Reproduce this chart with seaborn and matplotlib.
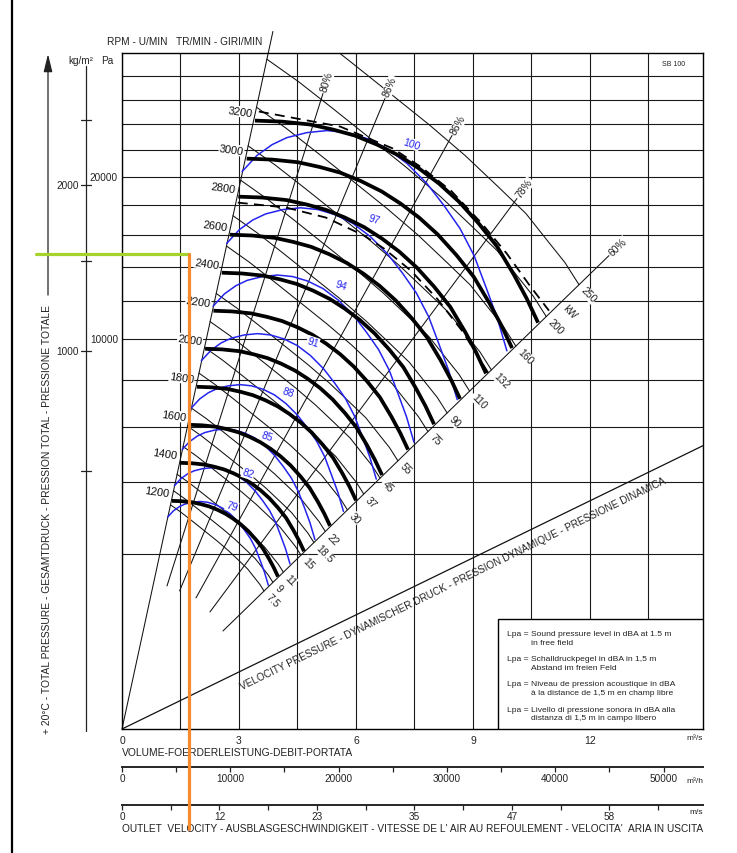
import numpy as np
import pandas as pd
import matplotlib
matplotlib.use("Agg")
import matplotlib.pyplot as plt
import seaborn as sns
from matplotlib.lines import Line2D
from matplotlib.patches import Rectangle
from matplotlib import transforms

# ------------------------------------------------------------------ data
flow_tick_values = [0, 3, 6, 9, 12]                 # m3/s
flow_grid_minor = [1.5, 4.5, 7.5, 10.5, 13.5]
pressure_grid = [2000, 4000, 6000, 8000, 10000, 12000, 14000, 16000,
                 18000, 20000, 22000, 24000, 26000, 28000]
pa_label_values = [10000, 20000]
kg_tick_values = [500, 1000, 1500, 2000, 2500]
kg_tick_pressure_pa = [4380, 9390, 14400, 19460, 24380]
kg_label_values = [1000, 2000]
hourly_major = [0, 10000, 20000, 30000, 40000, 50000]
hourly_minor = [5000, 15000, 25000, 35000, 45000]
outlet_velocity_labels = ["0", "12", "23", "35", "47", "58"]
outlet_velocity_flow = [0, 2.5, 5.0, 7.5, 10.0, 12.5]
outlet_minor_flow = [1.25, 3.75, 6.25, 8.75, 11.25, 13.75]

# fan curves (thick): characteristic read at 3200 rpm, other speeds by the fan laws
rpm_values = [1200, 1400, 1600, 1800, 2000, 2200, 2400, 2600, 2800, 3000, 3200]
curve_flow_3200 = [3.41, 4.10, 4.82, 5.41, 5.97, 6.54, 7.10, 7.62, 8.13, 8.64,
                   9.15, 9.62, 10.05, 10.38, 10.67]
curve_pressure_3200 = [24300, 24220, 23990, 23590, 23120, 22420, 21590, 20620, 19530, 18260,
                       16770, 15280, 13550, 12160, 10840]

# sound pressure level lines (blue), read at 100 dBA
sound_levels = [79, 82, 85, 88, 91, 94, 97, 100]
sound_flow_100 = [3.08, 3.46, 3.85, 4.23, 4.74, 5.26, 5.77, 6.28, 6.80, 7.31, 7.82,
                  8.26, 8.67, 9.03, 9.33, 9.62, 9.87]
sound_pressure_100 = [20400, 21590, 22420, 22960, 23350, 23510, 23350, 22890, 22120, 20990,
                      19530, 17980, 16440, 14710, 12840, 11110, 9390]
sound_label_flow_100 = 7.41
sound_label_pressure_100 = 22500

# absorbed power lines (thin), read at 250 kW
kw_values = [7.5, 9, 11, 15, 18.5, 22, 30, 37, 45, 55, 75, 90, 110, 132, 160, 200, 250]
kw_flow_250 = [4.00, 4.87, 5.82, 6.85, 7.87, 8.80, 9.67, 10.36, 10.95, 11.36, 11.72]
kw_pressure_250 = [34180, 31940, 29340, 26590, 23990, 21590, 19240, 17440, 15530, 14280, 12960]
kw_unit_flow = 11.25
kw_unit_pressure = 11930

# dashed limit curves
dash1_flow = [3.51, 5.59, 6.95, 7.69, 8.46, 9.23, 9.87, 10.46, 10.95]
dash1_pressure = [25030, 23830, 22120, 20690, 18960, 16770, 14830, 12900, 11490]
dash2_flow = [2.97, 4.21, 5.23, 6.21, 6.72, 7.41, 8.08, 8.74, 9.39]
dash2_pressure = [18190, 17850, 17170, 15980, 15150, 13790, 12160, 10360, 8330]

# efficiency lines
eff_labels = ["80%", "86%", "86%", "78%", "60%"]
eff_start_flow = [1.154, 1.477, 1.897, 2.256, 2.590]
eff_start_pressure = [1344, 1252, 1128, 900, 631]
eff_end_flow = [5.154, 6.744, 8.462, 10.128, 12.487]
eff_end_pressure = [26510, 26100, 23120, 18470, 14710]

left_ray_flow = [0, 3.87]
left_ray_pressure = [0, 31940]
vp_flow = [0, 14.9]
vp_pressure = [0, 5270]
vp_label_flow = 8.33

duty_flow = 1.72
duty_pressure = 14830

legend_lines = [
    ("Lpa =", "Sound pressure level in dBA at 1.5 m", "in free field"),
    ("Lpa =", "Schalldruckpegel in dBA in 1,5 m", "Abstand im freien Feld"),
    ("Lpa =", "Niveau de pression acoustique in dBA", "à la distance de 1,5 m en champ libre"),
    ("Lpa =", "Livello di pressione sonora in dBA alla", "distanza di 1,5 m in campo libero"),
]

# ------------------------------------------------------------------ style
sns.set_theme(style="white")
plt.rcParams["font.family"] = ["Liberation Sans", "DejaVu Sans"]
plt.rcParams["axes.linewidth"] = 1.0

W, H = 737, 854
fig = plt.figure(figsize=(W / 100, H / 100), dpi=100)
fig.patch.set_facecolor("white")
ax = fig.add_axes([122 / W, 1 - 730 / H, (703 - 122) / W, (730 - 54) / H])
ax.set_facecolor("white")

BLUE = "#2424ee"
INK = "#111111"
TXT = "#222222"


def scaled(values, base_q, base_p, factors, key):
    rows = []
    for v, f in zip(values, factors):
        for i, (q, p) in enumerate(zip(base_q, base_p)):
            rows.append({key: v, "i": i, "flow": q * f, "pressure": p * f * f})
    return pd.DataFrame(rows)


rpm_factor = [n / 3200 for n in rpm_values]
sound_factor = [10 ** ((L - 100) / 50) for L in sound_levels]
kw_factor = [(k / 250) ** (1 / 3) for k in kw_values]

rpm_df = scaled(rpm_values, curve_flow_3200, curve_pressure_3200, rpm_factor, "rpm")
snd_df = scaled(sound_levels, sound_flow_100, sound_pressure_100, sound_factor, "lpa")
kw_df = scaled(kw_values, kw_flow_250, kw_pressure_250, kw_factor, "kw")

sns.lineplot(data=kw_df, x="flow", y="pressure", units="kw", estimator=None, sort=False,
             color=INK, linewidth=0.75, ax=ax, legend=False, zorder=2)
sns.lineplot(data=snd_df, x="flow", y="pressure", units="lpa", estimator=None, sort=False,
             color=BLUE, linewidth=1.1, ax=ax, legend=False, zorder=3,
             solid_joinstyle="round")
sns.lineplot(data=rpm_df, x="flow", y="pressure", units="rpm", estimator=None, sort=False,
             color="black", linewidth=2.7, ax=ax, legend=False, zorder=5,
             solid_joinstyle="round", solid_capstyle="butt")
ax.plot(dash1_flow, dash1_pressure, color="black", lw=1.3, ls=(0, (5.5, 3.5)), zorder=4)
ax.plot(dash2_flow, dash2_pressure, color="black", lw=1.3, ls=(0, (5.5, 3.5)), zorder=4)
ax.plot(left_ray_flow, left_ray_pressure, color=INK, lw=0.75, zorder=2, clip_on=False)
ax.plot(vp_flow, vp_pressure, color=INK, lw=0.9, zorder=2)

ax.set_yscale("function", functions=(lambda p: np.sqrt(np.clip(p, 0, None)),
                                     lambda s: np.square(s)))
ax.set_xlim(0, 14.9)
ax.set_ylim(0, 30000)
ax.set_xlabel("")
ax.set_ylabel("")

ax.set_xticks(flow_tick_values, labels=[str(v) for v in flow_tick_values])
ax.set_xticks(flow_grid_minor, minor=True)
ax.set_yticks(pressure_grid, labels=[])
ax.tick_params(axis="both", which="both", length=0)
ax.tick_params(axis="x", labelsize=7.5, pad=4, labelcolor=TXT)
ax.grid(True, which="both", color="#1a1a1a", linewidth=0.8)
for s in ax.spines.values():
    s.set_color("black")
    s.set_linewidth(1.0)


def disp(q, p):
    return ax.transData.transform((q, p))


# efficiency lines and their labels
for lab, q0, p0, q1, p1 in zip(eff_labels, eff_start_flow, eff_start_pressure,
                               eff_end_flow, eff_end_pressure):
    ax.plot([q0, q1], [p0, p1], color=INK, lw=0.75, zorder=2)
    d0, d1 = disp(q0, p0), disp(q1, p1)
    ang = np.degrees(np.arctan2(d1[1] - d0[1], d1[0] - d0[0]))
    u = np.array([np.cos(np.radians(ang)), np.sin(np.radians(ang))])
    ax.annotate(lab, xy=(q1, p1), xytext=tuple(u * 13), textcoords="offset pixels",
                rotation=ang, rotation_mode="anchor", ha="center", va="center",
                fontsize=7.5, color=TXT, zorder=7, annotation_clip=False,
                bbox=dict(boxstyle="square,pad=0.05", fc="white", ec="none"))

# rpm labels
for n, f in zip(rpm_values, rpm_factor):
    ax.annotate(str(n), xy=(curve_flow_3200[0] * f, curve_pressure_3200[0] * f * f),
                xytext=(-15, 9), textcoords="offset pixels", rotation=-8,
                ha="center", va="center", fontsize=8, color="#111111", zorder=7,
                bbox=dict(boxstyle="square,pad=0.05", fc="white", ec="none"))

# sound labels
for L, f in zip(sound_levels, sound_factor):
    ax.annotate(str(L), xy=(sound_label_flow_100 * f, sound_label_pressure_100 * f * f),
                xytext=(0, 0), textcoords="offset pixels", rotation=-18,
                ha="center", va="center", fontsize=7.5, color=BLUE, zorder=7,
                bbox=dict(boxstyle="square,pad=0.05", fc="white", ec="none"))

# kW labels along the boundary line
d0, d1 = disp(0, 0), disp(eff_end_flow[-1], eff_end_pressure[-1])
ray_ang = np.degrees(np.arctan2(d1[1] - d0[1], d1[0] - d0[0]))
perp = ray_ang - 90
pv = np.array([np.cos(np.radians(perp)), np.sin(np.radians(perp))])
for k, f in zip(kw_values, kw_factor):
    ax.annotate(f"{k:g}", xy=(kw_flow_250[-1] * f, kw_pressure_250[-1] * f * f),
                xytext=tuple(pv * 5), textcoords="offset pixels", rotation=perp,
                rotation_mode="anchor", ha="left", va="center", fontsize=7.5,
                color=TXT, zorder=7,
                bbox=dict(boxstyle="square,pad=0.05", fc="white", ec="none"))
ax.annotate("kW", xy=(kw_unit_flow, kw_unit_pressure), xytext=tuple(pv * 5),
            textcoords="offset pixels", rotation=perp, rotation_mode="anchor",
            ha="left", va="center", fontsize=7.5, color=TXT, zorder=7)

# velocity pressure label
d0, d1 = disp(vp_flow[0], vp_pressure[0]), disp(vp_flow[1], vp_pressure[1])
vang = np.degrees(np.arctan2(d1[1] - d0[1], d1[0] - d0[0]))
vperp = np.array([np.sin(np.radians(vang)), -np.cos(np.radians(vang))])
ax.annotate("VELOCITY PRESSURE - DYNAMISCHER DRUCK - PRESSION DYNAMIQUE - PRESSIONE DINAMICA",
            xy=(vp_label_flow, vp_pressure[1] * (vp_label_flow / vp_flow[1]) ** 2),
            xytext=tuple(vperp * 9), textcoords="offset pixels", rotation=vang,
            rotation_mode="anchor", ha="center", va="top", fontsize=7.2,
            color=TXT, zorder=7)

# legend box
ax.add_patch(Rectangle(((498 - 122) / 581, 0), (703 - 498) / 581, (730 - 620) / 676,
                       transform=ax.transAxes, fc="white", ec="black", lw=1.0, zorder=8))


def ftext(x, y, s, **kw):
    kw.setdefault("color", TXT)
    return fig.text(x / W, 1 - y / H, s, **kw)


for j, (a, b, c) in enumerate(legend_lines):
    y0 = 635 + j * 25
    ftext(507, y0, a, fontsize=6.1, va="center", ha="left")
    ftext(531, y0, b, fontsize=6.1, va="center", ha="left")
    ftext(531, y0 + 8.5, c, fontsize=6.1, va="center", ha="left")

# secondary flow axes
sec1 = ax.secondary_xaxis(-(768 - 730) / 676, functions=(lambda q: q * 3600, lambda h: h / 3600))
sec1.set_xticks(hourly_major, labels=[str(v) for v in hourly_major])
sec1.set_xticks(hourly_minor, minor=True)
sec1.tick_params(which="both", direction="out", length=3.6, width=0.9, pad=0.5,
                 labelsize=7.2, colors=TXT)
sec1.spines["bottom"].set_linewidth(1.4)

sec2 = ax.secondary_xaxis(-(806 - 730) / 676, functions=(lambda q: q, lambda q: q))
sec2.set_xticks(outlet_velocity_flow, labels=outlet_velocity_labels)
sec2.set_xticks(outlet_minor_flow, minor=True)
sec2.tick_params(which="both", direction="out", length=3.6, width=0.9, pad=0.5,
                 labelsize=7.2, colors=TXT)
sec2.spines["bottom"].set_linewidth(1.4)

ftext(703, 739, "m³/s", fontsize=6, ha="right", va="center")
ftext(703, 782, "m³/h", fontsize=6, ha="right", va="center")
ftext(703, 813, "m/s", fontsize=6, ha="right", va="center")
ftext(122, 753, "VOLUME-FOERDERLEISTUNG-DEBIT-PORTATA", fontsize=7.4, ha="left", va="center")
ftext(122, 829, "OUTLET  VELOCITY - AUSBLASGESCHWINDIGKEIT - VITESSE DE L' AIR AU REFOULEMENT"
      " - VELOCITA'  ARIA IN USCITA", fontsize=7.3, ha="left", va="center")
ftext(107, 42, "RPM - U/MIN   TR/MIN - GIRI/MIN", fontsize=7.3, ha="left", va="center")
ftext(674, 64, "SB 100", fontsize=5, ha="center", va="center")

# left-hand scales
fig.add_artist(Line2D([12 / W, 12 / W], [0, 1], transform=fig.transFigure, color="black", lw=1.6))
ax.annotate("", xy=(48, H - 55), xytext=(48, H - 296), xycoords="figure pixels",
            textcoords="figure pixels", annotation_clip=False,
            arrowprops=dict(arrowstyle="-|>,head_length=0.9,head_width=0.22",
                            color=TXT, lw=0.9, shrinkA=0, shrinkB=0))
ftext(47, 520, "+ 20°C - TOTAL PRESSURE - GESAMTDRUCK - PRESSION TOTAL - PRESSIONE TOTALE",
      fontsize=7.35, rotation=90, ha="center", va="center")
fig.add_artist(Line2D([86 / W, 86 / W], [1 - 67 / H, 1 - 732 / H], transform=fig.transFigure,
                      color=TXT, lw=0.9))
blend = transforms.blended_transform_factory(fig.transFigure, ax.transData)
for kv, pp in zip(kg_tick_values, kg_tick_pressure_pa):
    fig.add_artist(Line2D([81 / W, 91 / W], [pp, pp], transform=blend, color=TXT, lw=0.9))
    if kv in kg_label_values:
        fig.text(79 / W, pp, str(kv), transform=blend, fontsize=7.2, ha="right", va="center",
                 color=TXT)
for pv_ in pa_label_values:
    fig.text(118 / W, pv_, str(pv_), transform=blend, fontsize=7.2, ha="right", va="center",
             color=TXT)
ftext(81, 61, "kg/m²", fontsize=7.2, ha="center", va="center")
ftext(107, 61, "Pa", fontsize=7.2, ha="center", va="center")

# marked duty point
dp = disp(duty_flow, duty_pressure)
fig.add_artist(Line2D([36, dp[0]], [dp[1], dp[1]], transform=transforms.IdentityTransform(),
                      color="#a6d22c", lw=2.3, zorder=10))
fig.add_artist(Line2D([dp[0], dp[0]], [dp[1], H - 830], transform=transforms.IdentityTransform(),
                      color="#f58a2e", lw=2.3, zorder=10))

fig.savefig("out.png", dpi=100, facecolor="white")
